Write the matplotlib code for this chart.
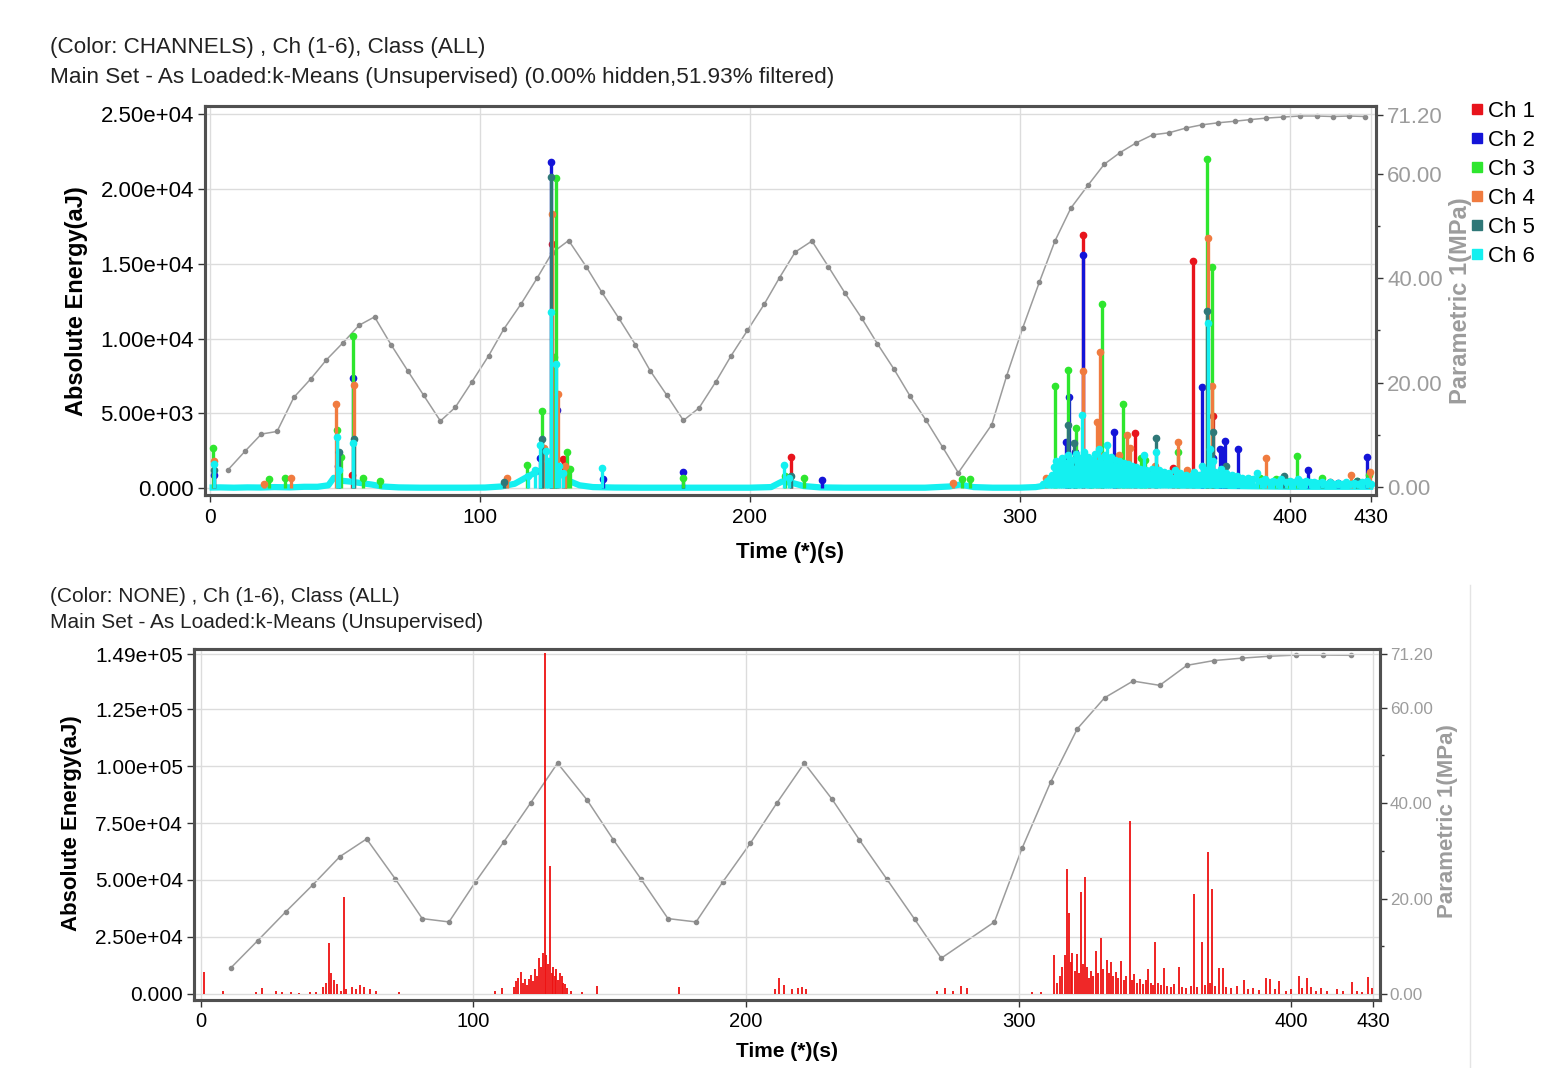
import matplotlib
matplotlib.use('Agg')
import numpy as np
from matplotlib import pyplot as plt
from matplotlib.lines import Line2D

plt.rcParams['font.family'] = ['Liberation Sans', 'DejaVu Sans']

# pressure curve, top chart (s, MPa)
top_p_t = [6.9, 13.1, 19.2, 25.0, 31.2, 37.4, 43.3, 49.5, 55.4, 61.1, 67.2, 73.4, 79.3, 85.5,
           91.0, 97.2, 103.4, 108.9, 115.4, 121.3, 126.8, 133.0, 139.5, 145.3, 151.5, 157.7,
           163.2, 169.4, 175.5, 181.3, 187.5, 193.2, 199.2, 205.4, 211.1, 216.9, 223.1, 229.2,
           235.4, 241.6, 247.3, 253.5, 259.4, 265.4, 271.5, 277.3, 289.7, 295.2, 301.1, 307.3,
           313.1, 319.0, 325.4, 331.4, 337.2, 343.3, 349.3, 355.4, 361.6, 367.4, 373.5, 379.7,
           385.3, 391.4, 397.6, 403.8, 410.0, 416.0, 422.0, 428.0]
top_p_v = [3.4, 6.9, 10.2, 10.7, 17.2, 20.7, 24.4, 27.7, 31.0, 32.6, 27.3, 22.3, 17.6, 12.7,
           15.3, 20.2, 25.2, 30.2, 35.1, 40.0, 44.8, 47.2, 42.2, 37.3, 32.4, 27.3,
           22.3, 17.6, 12.8, 15.2, 20.2, 25.2, 30.0, 35.0, 40.1, 45.0, 47.1, 42.2,
           37.1, 32.3, 27.5, 22.6, 17.5, 12.8, 7.7, 2.8, 12.0, 21.3, 30.4, 39.2,
           47.1, 53.4, 57.8, 61.8, 64.0, 65.9, 67.4, 67.8, 68.7, 69.3, 69.7, 70.0,
           70.3, 70.6, 70.8, 71.0, 71.0, 70.9, 71.0, 70.9]

# pressure curve, bottom chart
bot_p_t = [11.0, 21.0, 31.2, 41.2, 51.1, 60.9, 71.3, 81.3, 91.1, 100.7, 111.1, 121.1, 130.9,
           141.7, 151.4, 161.5, 171.4, 181.7, 191.4, 201.6, 211.4, 221.4, 231.6, 241.6, 251.6,
           261.8, 271.6, 291.1, 301.2, 311.7, 321.5, 331.5, 341.9, 351.7, 361.7, 371.6, 381.7,
           391.8, 401.8, 411.6, 421.8]
bot_p_v = [5.4, 11.2, 17.2, 22.9, 28.8, 32.5, 24.2, 15.8, 15.1, 23.4, 31.8, 40.1, 48.4,
           40.7, 32.3, 24.1, 15.8, 15.1, 23.4, 31.6, 40.1, 48.4, 40.8, 32.3, 24.1,
           15.7, 7.5, 15.1, 30.5, 44.4, 55.6, 62.1, 65.6, 64.7, 68.9, 69.9, 70.4,
           70.8, 71.05, 71.05, 71.0]

# hits per channel, top chart: (time s, absolute energy aJ)
ch1_hits = [(52.9, 900), (126.8, 16300), (130.8, 1950), (131.5, 1500), (215.3, 2110),
            (318.0, 1200), (323.4, 16900), (336.0, 900), (342.8, 3670), (348.0, 1000),
            (357.0, 1340), (364.3, 15200), (371.5, 4830), (385.0, 600), (395.0, 500), (415.0, 400)]
ch2_hits = [(1.8, 900), (47.5, 1500), (53.2, 7400), (122.5, 2000), (126.4, 21800), (127.8, 4500),
            (128.6, 5200), (145.6, 600), (175.5, 1090), (226.8, 530), (317.2, 3110), (318.4, 6120),
            (320.5, 2400), (323.6, 15600), (330.5, 1600), (335.0, 3780), (367.5, 6790),
            (371.8, 2000), (374.2, 2650), (375.0, 2580), (376.1, 3180), (381.0, 2600),
            (407.0, 1220), (412.0, 350), (418.0, 350), (428.6, 2070)]
ch3_hits = [(1.4, 2700), (22.0, 600), (28.0, 700), (47.3, 3900), (48.5, 2100), (53.0, 10200),
            (57.0, 700), (63.0, 500), (117.6, 1530), (123.1, 5150), (127.6, 8800), (128.4, 20700),
            (132.4, 2400), (133.5, 1300), (175.5, 690), (213.0, 850), (220.2, 710), (278.6, 640),
            (281.6, 640), (313.1, 6830), (318.1, 7930), (320.9, 4050), (326.7, 1890),
            (330.4, 12330), (338.2, 5630), (345.0, 2000), (346.5, 1900), (358.8, 2420),
            (369.5, 21980), (371.3, 14760), (389.0, 700), (395.0, 600), (399.0, 500),
            (402.9, 2160), (412.0, 660), (425.0, 500), (429.4, 900)]
ch4_hits = [(1.5, 1800), (20.0, 300), (30.0, 700), (47.0, 5600), (53.4, 6900), (110.0, 670),
            (123.8, 2700), (126.9, 18300), (128.9, 6300), (131.8, 1500), (275.5, 380),
            (309.8, 700), (323.5, 7820), (328.6, 4450), (329.8, 9110), (337.0, 2200),
            (339.9, 3560), (341.0, 2700), (350.0, 1500), (358.8, 3110), (362.0, 1200),
            (369.8, 16710), (371.3, 6820), (391.3, 2000), (422.7, 880), (429.6, 1100)]
ch5_hits = [(1.8, 1200), (47.8, 2400), (53.6, 3300), (109.0, 400), (123.3, 3300), (126.3, 20800),
            (215.5, 800), (318.0, 4250), (320.0, 3000), (326.0, 1500), (335.5, 1300),
            (350.6, 3340), (369.6, 11820), (371.5, 3760), (376.5, 1500), (398.0, 800), (425.0, 500)]
ch6_hits = [(1.5, 1600), (47.2, 3400), (47.9, 1200), (53.1, 3000), (118.0, 800), (120.5, 1200),
            (122.5, 2900), (124.5, 2500), (125.5, 1800), (126.6, 11800), (128.2, 8300),
            (129.5, 1500), (131.0, 1000), (145.3, 1380), (212.6, 1530), (214.5, 700),
            (308.5, 300), (310.0, 500), (311.2, 700), (312.0, 900), (312.8, 1400), (313.5, 1800),
            (314.3, 1200), (315.0, 1600), (315.8, 2000), (316.5, 1400), (317.3, 1700),
            (318.0, 2200), (318.8, 1500), (319.5, 1900), (320.3, 1300), (321.0, 2300),
            (321.8, 1600), (322.5, 2000), (323.2, 4930), (324.0, 2400), (324.8, 1800),
            (325.5, 2100), (326.3, 1500), (327.0, 1900), (327.8, 2300), (328.5, 1700),
            (329.3, 2600), (330.0, 2000), (330.8, 1600), (331.5, 2200), (332.5, 2900),
            (333.3, 1700), (334.0, 2100), (334.8, 1500), (335.5, 1900), (336.3, 1400),
            (337.0, 1800), (337.8, 1300), (338.5, 1700), (339.3, 1200), (340.0, 1600),
            (340.8, 1100), (341.5, 1500), (342.3, 1200), (343.0, 1400), (343.8, 1000),
            (344.5, 1300), (345.3, 1100), (346.0, 2200), (347.0, 1200), (348.0, 900),
            (349.0, 1300), (350.0, 1000), (350.6, 2400), (351.5, 1200), (352.5, 900),
            (353.5, 1100), (354.5, 800), (355.5, 1000), (356.5, 700), (357.5, 1200),
            (358.5, 900), (359.5, 1000), (360.5, 700), (361.5, 900), (362.5, 600), (363.5, 800),
            (364.5, 1100), (365.5, 700), (366.5, 900), (367.5, 1500), (368.5, 1200),
            (369.7, 11040), (370.5, 2600), (371.5, 1800), (372.5, 1100), (373.5, 900),
            (374.5, 1300), (375.5, 800), (376.5, 1000), (377.5, 700), (378.5, 900), (379.5, 600),
            (380.5, 800), (381.5, 600), (382.5, 700), (383.5, 500), (384.5, 700), (385.5, 500),
            (386.5, 600), (388.0, 1000), (389.5, 500), (391.0, 600), (392.5, 400), (394.0, 500),
            (395.5, 400), (397.0, 600), (398.5, 400), (400.0, 500), (401.5, 400), (403.0, 600),
            (404.5, 400), (406.0, 500), (407.5, 400), (409.0, 450), (410.5, 350), (412.0, 400),
            (413.5, 300), (415.0, 400), (416.5, 300), (418.0, 350), (419.5, 300), (421.0, 400),
            (422.5, 300), (424.0, 350), (425.5, 300), (427.0, 400), (428.5, 500), (430.0, 300)]
# low-level continuous Ch 6 activity (the cyan band along zero)
ch6_base = [(0.0, 50), (4.0, 60), (9.0, 40), (14.0, 60), (19.0, 50), (24.0, 80), (30.0, 60),
            (35.0, 100), (40.0, 100), (44.0, 200), (46.0, 700), (49.0, 500), (52.0, 450),
            (56.0, 350), (60.0, 250), (64.0, 120), (70.0, 60), (78.0, 40), (86.0, 40),
            (95.0, 40), (102.0, 50), (108.0, 120), (113.0, 300), (116.0, 600), (119.0, 900),
            (121.5, 1100), (124.0, 1300), (127.0, 1300), (130.0, 1000), (133.0, 500),
            (137.0, 200), (142.0, 80), (150.0, 50), (160.0, 40), (170.0, 40), (180.0, 40),
            (190.0, 40), (200.0, 40), (208.0, 80), (212.0, 450), (216.0, 350), (220.0, 150),
            (226.0, 60), (235.0, 40), (250.0, 40), (265.0, 40), (274.0, 120), (278.0, 250),
            (283.0, 80), (290.0, 40), (300.0, 40), (306.0, 80), (310.0, 200), (320.0, 300),
            (340.0, 300), (360.0, 200), (380.0, 150), (400.0, 100), (431.0, 100)]

channel_names = ['Ch 1', 'Ch 2', 'Ch 3', 'Ch 4', 'Ch 5', 'Ch 6']
channel_colors = ['#e8141c', '#1414d8', '#2ee62e', '#f07b3f', '#2f7878', '#14f0f0']

# all hits, bottom chart (no colouring)
all_hits = [(1.2, 9800), (8.3, 1200), (20.5, 800), (22.4, 2500), (27.5, 1500), (30.0, 900),
            (33.0, 800), (36.0, 600), (40.0, 1000), (42.5, 900), (45.0, 3000), (46.0, 5000),
            (47.1, 22400), (48.0, 9000), (49.0, 6000), (50.0, 4500), (51.5, 1500), (52.6, 42600),
            (53.5, 2000), (55.6, 3000), (57.0, 2000), (58.5, 3800), (60.0, 3200), (62.0, 2000),
            (64.5, 1500), (72.8, 800), (108.0, 1500), (110.5, 2500),
            (115.0, 3000), (115.8, 5500), (116.5, 7200), (117.4, 9500), (118.2, 5000),
            (119.0, 6500), (119.8, 4000), (120.5, 6400), (121.2, 8500), (122.0, 5500),
            (122.8, 11000), (123.5, 8000), (124.2, 15700), (125.0, 12000), (125.6, 18000),
            (126.2, 149500), (126.8, 17000), (127.4, 13000), (128.1, 56000), (128.7, 9000),
            (129.3, 12000), (130.0, 8000), (130.5, 11000), (131.2, 6000), (131.8, 9000),
            (132.4, 8000), (133.0, 5000), (133.8, 4400), (134.5, 2500), (136.0, 1500),
            (140.0, 800), (145.3, 3600), (175.5, 3200), (210.5, 2000), (212.2, 6900),
            (214.0, 4000), (217.0, 2000), (219.0, 2500), (220.5, 3000), (222.0, 2000),
            (270.0, 1200), (273.0, 2500), (276.0, 1500), (279.0, 3500), (281.0, 2500),
            (305.0, 800), (308.0, 1000), (312.9, 17200), (314.0, 5000), (315.0, 8000),
            (316.0, 12000), (317.0, 17200), (317.8, 55000), (318.5, 35600), (319.2, 14000),
            (319.7, 18000), (320.5, 10000), (321.2, 17500), (322.0, 9000), (322.9, 44700),
            (323.5, 13000), (324.2, 51500), (325.0, 12000), (325.8, 7000), (326.5, 10000),
            (327.3, 8000), (328.2, 18700), (329.0, 9000), (330.3, 24600), (331.0, 11000),
            (332.4, 15000), (333.0, 9000), (333.8, 14200), (334.5, 8000), (335.5, 9500),
            (336.5, 7000), (337.5, 14300), (338.5, 6000), (339.5, 8000), (340.7, 76000),
            (341.5, 6000), (342.3, 8700), (343.5, 5000), (344.5, 6500), (345.5, 4500),
            (346.5, 6000), (347.5, 11000), (348.5, 5000), (349.3, 4000), (350.1, 22800),
            (351.0, 5000), (352.0, 4000), (353.3, 11300), (354.5, 3500), (356.0, 3000),
            (357.0, 4500), (358.9, 11900), (360.0, 3000), (361.5, 2500), (363.0, 3500),
            (364.3, 43700), (365.5, 3000), (367.3, 22800), (368.2, 4000), (369.4, 62300),
            (370.2, 5000), (371.0, 45900), (372.0, 3500), (373.6, 11400), (374.8, 11400),
            (376.0, 3000), (378.0, 2500), (380.0, 3500), (382.5, 6200), (384.0, 2000),
            (386.0, 2500), (388.0, 1800), (390.8, 7100), (392.0, 6500), (394.0, 2000),
            (395.6, 5600), (398.0, 1500), (400.0, 2000), (402.6, 7800), (404.0, 2500),
            (405.6, 7100), (407.0, 3000), (409.0, 1500), (411.0, 2500), (413.0, 1200),
            (416.6, 2000), (419.0, 1500), (422.3, 5300), (424.0, 1500), (426.0, 1000),
            (428.1, 7400), (429.5, 2500)]

x_ticks = [0, 100, 200, 300, 400, 430]
top_e_ticks = [0, 5000, 10000, 15000, 20000, 25000]
top_e_labels = ['0.000', '5.00e+03', '1.00e+04', '1.50e+04', '2.00e+04', '2.50e+04']
bot_e_ticks = [0, 25000, 50000, 75000, 100000, 125000, 149000]
bot_e_labels = ['0.000', '2.50e+04', '5.00e+04', '7.50e+04', '1.00e+05', '1.25e+05', '1.49e+05']
p_ticks = [0, 20, 40, 60, 71.2]
p_labels = ['0.00', '20.00', '40.00', '60.00', '71.20']

GRAY = '#9c9c9c'
FRAME = '#505050'


def style_axes(ax, axr, xtick_size, etick_size, ptick_size, ppad):
    ax.set_xticks(x_ticks)
    ax.grid(True, color='#dcdcdc', lw=1)
    ax.set_axisbelow(True)
    ax.tick_params(axis='both', direction='out', length=5, width=1, color='#333333')
    ax.tick_params(axis='x', labelsize=xtick_size, pad=4)
    ax.tick_params(axis='y', labelsize=etick_size, pad=3)
    axr.set_yticks(p_ticks)
    axr.set_yticklabels(p_labels)
    axr.set_yticks([10, 30, 50], minor=True)
    axr.tick_params(axis='y', which='major', direction='out', length=5, width=1,
                    color='#333333', labelcolor=GRAY, labelsize=ptick_size, pad=ppad)
    axr.tick_params(axis='y', which='minor', direction='out', length=3, width=1, color='#333333')
    for a in (ax, axr):
        for s in a.spines.values():
            s.set_linewidth(2.2)
            s.set_color(FRAME)
    ax.set_zorder(axr.get_zorder() + 1)
    ax.patch.set_visible(False)


fig = plt.figure(figsize=(15.67, 10.68), dpi=100)

# ---- top chart ----
ax1 = fig.add_axes([0.1308, 0.5365, 0.7473, 0.3642])
ax1r = ax1.twinx()
ax1r.plot(top_p_t, top_p_v, color=GRAY, lw=1.1, marker='o', ms=3, mfc='#8a8a8a', mec='#8a8a8a')
ax1r.set_ylim(-1.45, 72.9)

bt, be = zip(*ch6_base)
for i, hits in enumerate([ch1_hits, ch2_hits, ch3_hits, ch4_hits, ch5_hits, ch6_hits]):
    t, e = zip(*hits)
    c = channel_colors[i]
    if i == 5:
        ax1.plot(bt, be, color=c, lw=4.5, solid_capstyle='butt', zorder=2)
    ax1.vlines(t, 0, e, color=c, lw=2.4, zorder=2 + i * 0.1)
    ax1.plot(t, e, ls='', marker='o', ms=4.5, color=c, zorder=2 + i * 0.1)

ax1.set_xlim(-1.7, 432)
ax1.set_ylim(-450, 25540)
ax1.set_yticks(top_e_ticks)
ax1.set_yticklabels(top_e_labels)
style_axes(ax1, ax1r, 15, 16, 16, 3)
ax1.text(0.5, -0.149, 'Time (*)(s)', transform=ax1.transAxes, ha='center', va='center',
         fontsize=16, fontweight='bold')
ax1.text(-0.110, 0.499, 'Absolute Energy(aJ)', transform=ax1.transAxes, rotation=90,
         ha='center', va='center', fontsize=17, fontweight='bold')
ax1.text(1.0725, 0.499, 'Parametric 1(MPa)', transform=ax1.transAxes, rotation=90,
         ha='center', va='center', fontsize=17, fontweight='bold', color=GRAY)

handles = [Line2D([], [], ls='', marker='s', ms=7, color=c) for c in channel_colors]
fig.legend(handles, channel_names, loc='upper left', bbox_to_anchor=(1470 / 1567, 1 - 101 / 1068),
           frameon=False, fontsize=16, handlelength=0.6, handletextpad=0.2,
           labelspacing=0.36, borderaxespad=0, borderpad=0)

fig.text(50 / 1567, 1 - 48 / 1068, '(Color: CHANNELS) , Ch (1-6), Class (ALL)',
         fontsize=16.2, va='center', ha='left', color='#222222')
fig.text(50 / 1567, 1 - 77 / 1068,
         'Main Set - As Loaded:k-Means (Unsupervised) (0.00% hidden,51.93% filtered)',
         fontsize=16.2, va='center', ha='left', color='#222222')

# ---- bottom chart ----
ax2 = fig.add_axes([0.1238, 0.0637, 0.7569, 0.3283])
ax2r = ax2.twinx()
ax2r.plot(bot_p_t, bot_p_v, color=GRAY, lw=1.1, marker='o', ms=3, mfc='#8a8a8a', mec='#8a8a8a')
ax2r.set_ylim(-1.26, 72.25)

at, ae = zip(*all_hits)
ax2.vlines(at, 0, ae, color='#ee1111', lw=1.3)
ax2.set_xlim(-2.4, 432.5)
ax2.set_ylim(-2640, 151200)
ax2.set_yticks(bot_e_ticks)
ax2.set_yticklabels(bot_e_labels)
style_axes(ax2, ax2r, 14.5, 15, 12.3, 2)
ax2.text(0.5, -0.148, 'Time (*)(s)', transform=ax2.transAxes, ha='center', va='center',
         fontsize=15, fontweight='bold')
ax2.text(-0.103, 0.503, 'Absolute Energy(aJ)', transform=ax2.transAxes, rotation=90,
         ha='center', va='center', fontsize=16, fontweight='bold')
ax2.text(1.0565, 0.509, 'Parametric 1(MPa)', transform=ax2.transAxes, rotation=90,
         ha='center', va='center', fontsize=16, fontweight='bold', color=GRAY)

fig.text(50 / 1567, 1 - 597 / 1068, '(Color: NONE) , Ch (1-6), Class (ALL)',
         fontsize=15, va='center', ha='left', color='#222222')
fig.text(50 / 1567, 1 - 623 / 1068, 'Main Set - As Loaded:k-Means (Unsupervised)',
         fontsize=15, va='center', ha='left', color='#222222')

# faint border of the lower screenshot
fig.add_artist(Line2D([1470 / 1567, 1470 / 1567], [0, 1 - 585 / 1068],
                      transform=fig.transFigure, color='#e4e4e4', lw=1))

fig.savefig('out.png', dpi=100)
